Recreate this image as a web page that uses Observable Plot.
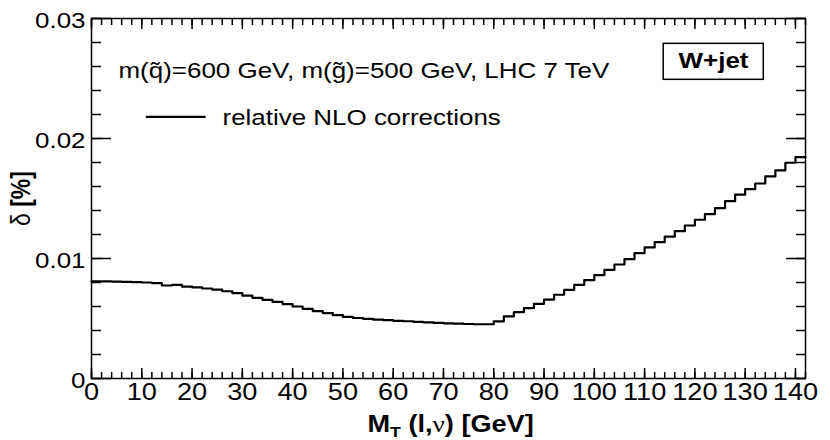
<!DOCTYPE html>
<html>
<head>
<meta charset="utf-8">
<script src="https://cdn.jsdelivr.net/npm/d3@7"></script>
<script src="https://cdn.jsdelivr.net/npm/@observablehq/plot@0.6"></script>
<style>
  html, body { margin: 0; padding: 0; background: #fff; }
  #chart svg { display: block; }
</style>
</head>
<body>
<div id="chart"></div>
<script>
// ---- data ----
const binStart = [0,2,4,6,8,10,12,14,16,18,20,22,24,26,28,30,32,34,36,38,
  40,42,44,46,48,50,52,54,56,58,60,62,64,66,68,70,72,74,76,78,
  80,82,84,86,88,90,92,94,96,98,100,102,104,106,108,110,112,114,116,118,
  120,122,124,126,128,130,132,134,136,138,140];
const lastEdge = 142;
const delta = [0.00810,0.00810,0.00808,0.00806,0.00803,0.00800,0.00795,0.00775,0.00780,0.00765,
  0.00760,0.00750,0.00740,0.00727,0.00712,0.00690,0.00672,0.00655,0.00638,0.00620,
  0.00600,0.00580,0.00562,0.00545,0.00528,0.00513,0.00504,0.00497,0.00490,0.00486,
  0.00481,0.00477,0.00472,0.00468,0.00464,0.00460,0.00457,0.00454,0.00452,0.00452,
  0.00476,0.00517,0.00553,0.00586,0.00622,0.00658,0.00698,0.00738,0.00780,0.00820,
  0.00862,0.00905,0.00950,0.00995,0.01045,0.01092,0.01136,0.01182,0.01228,0.01275,
  0.01323,0.01370,0.01420,0.01478,0.01532,0.01578,0.01625,0.01684,0.01735,0.01798,
  0.01844];
const xMajor = [0,10,20,30,40,50,60,70,80,90,100,110,120,130,140];
const xTickLabels = ["0","10","20","30","40","50","60","70","80","90","100","110","120","130","140"];
const xMinor = [0,2,4,6,8,10,12,14,16,18,20,22,24,26,28,30,32,34,36,38,40,42,44,46,48,50,
  52,54,56,58,60,62,64,66,68,70,72,74,76,78,80,82,84,86,88,90,92,94,96,98,100,
  102,104,106,108,110,112,114,116,118,120,122,124,126,128,130,132,134,136,138,140,142];
const yMajor = [0, 0.01, 0.02, 0.03];
const yTickLabels = ["0", "0.01", "0.02", "0.03"];
const yMinor = [0,0.002,0.004,0.006,0.008,0.01,0.012,0.014,0.016,0.018,0.02,0.022,0.024,0.026,0.028,0.03];

const infoText = "m(q\u0303)=600 GeV, m(g\u0303)=500 GeV, LHC 7 TeV";
const legendText = "relative NLO corrections";
const processText = "W+jet";
const xTitle = "MT (l,\u03bd) [GeV]";
const yTitle = "\u03b4 [%]";

// annotation anchors (data coordinates)
const legendLineX = [10.8, 22.7];
const legendLineY = 0.02181;
const boxX = [113.8, 133.7];
const boxY = [0.02489, 0.02789];

// ---- build ----
const steps = binStart.map((x, i) => ({x, y: delta[i]}));
steps.push({x: lastEdge, y: delta[delta.length - 1]});

const FONT = "Liberation Sans, Arial, Helvetica, sans-serif";
const SX = 1.18;

const chart = Plot.plot({
  width: 830,
  height: 440,
  marginLeft: 91,
  marginRight: 25,
  marginTop: 18,
  marginBottom: 62,
  style: {fontFamily: FONT, fontSize: "22px", color: "black", background: "white"},
  x: {domain: [0, 142]},
  y: {domain: [0, 0.03]},
  marks: [
    // minor & major ticks, all four sides, pointing inwards
    Plot.axisX(xMinor, {anchor: "bottom", tickSize: -6, fill: "none", stroke: "black", strokeWidth: 1.5, label: null}),
    Plot.axisX(xMajor, {anchor: "bottom", tickSize: -10, fill: "none", stroke: "black", strokeWidth: 1.5, label: null}),
    Plot.axisX(xMinor, {anchor: "top", tickSize: -6, fill: "none", stroke: "black", strokeWidth: 1.5, label: null}),
    Plot.axisX(xMajor, {anchor: "top", tickSize: -10, fill: "none", stroke: "black", strokeWidth: 1.5, label: null}),
    Plot.axisY(yMinor, {anchor: "left", tickSize: -10, fill: "none", stroke: "black", strokeWidth: 1.5, label: null}),
    Plot.axisY(yMajor, {anchor: "left", tickSize: -20, fill: "none", stroke: "black", strokeWidth: 1.5, label: null}),
    Plot.axisY(yMinor, {anchor: "right", tickSize: -10, fill: "none", stroke: "black", strokeWidth: 1.5, label: null}),
    Plot.axisY(yMajor, {anchor: "right", tickSize: -20, fill: "none", stroke: "black", strokeWidth: 1.5, label: null}),
    // tick labels
    Plot.axisX(xMajor, {anchor: "bottom", tickSize: 0, tickPadding: 5, fill: "black", fontSize: 23,
      tickFormat: (d, i) => xTickLabels[i], label: null}),
    Plot.axisY(yMajor, {anchor: "left", tickSize: 0, tickPadding: 6, dy: 2, fill: "black", fontSize: 22,
      tickFormat: (d, i) => yTickLabels[i], label: null}),
    Plot.frame({stroke: "black", strokeWidth: 1.5}),
    // the histogram
    Plot.line(steps, {x: "x", y: "y", curve: "step-after", stroke: "black", strokeWidth: 2.2}),
    // annotations
    Plot.text([infoText], {frameAnchor: "top-left", dx: 27, dy: 59, textAnchor: "start", lineAnchor: "bottom", fontSize: 22, fill: "black"}),
    Plot.link([0], {x1: () => legendLineX[0], x2: () => legendLineX[1], y1: () => legendLineY, y2: () => legendLineY, stroke: "black", strokeWidth: 2.2}),
    Plot.text([legendText], {frameAnchor: "top-left", dx: 131, dy: 106, textAnchor: "start", lineAnchor: "bottom", fontSize: 22, fill: "black"}),
    Plot.rect([0], {x1: () => boxX[0], x2: () => boxX[1], y1: () => boxY[0], y2: () => boxY[1], fill: "white", stroke: "black", strokeWidth: 1.5}),
    Plot.text([processText], {frameAnchor: "top-left", dx: 622, dy: 49, textAnchor: "middle", lineAnchor: "bottom", fontSize: 22, fontWeight: "bold", fill: "black"}),
    // axis titles
    Plot.text([xTitle], {frameAnchor: "bottom-left", dx: 276, dy: 53, textAnchor: "start", lineAnchor: "bottom", fontSize: 23, fontWeight: "bold", fill: "black"}),
    Plot.text([yTitle], {frameAnchor: "left", dx: -70, rotate: -90, textAnchor: "middle", lineAnchor: "middle", fontSize: 23, fontWeight: "bold", fill: "black"})
  ]
});

// mimic the horizontally wide lettering of the reference
d3.select(chart).selectAll("text").each(function () {
  const t = this.getAttribute("transform") || "";
  if (/rotate/.test(t)) this.setAttribute("transform", t + ` scale(1,${SX})`);
  else this.setAttribute("transform", t + ` scale(${SX},1)`);
  if (this.textContent === xTitle) {
    this.textContent = "";
    const s = d3.select(this);
    s.append("tspan").text("M");
    s.append("tspan").attr("font-size", 15).attr("dy", 5).text("T");
    s.append("tspan").attr("dy", -5).text(" (l,");
    s.append("tspan").attr("font-weight", "normal").attr("font-family", "Liberation Serif, serif").text("\u03bd");
    s.append("tspan").text(") [GeV]");
  }
  if (this.textContent === yTitle) {
    this.textContent = "";
    const s = d3.select(this);
    s.append("tspan").attr("font-weight", "normal").text("\u03b4");
    s.append("tspan").text(" [%]");
  }
});

document.getElementById("chart").appendChild(chart);
</script>
</body>
</html>
